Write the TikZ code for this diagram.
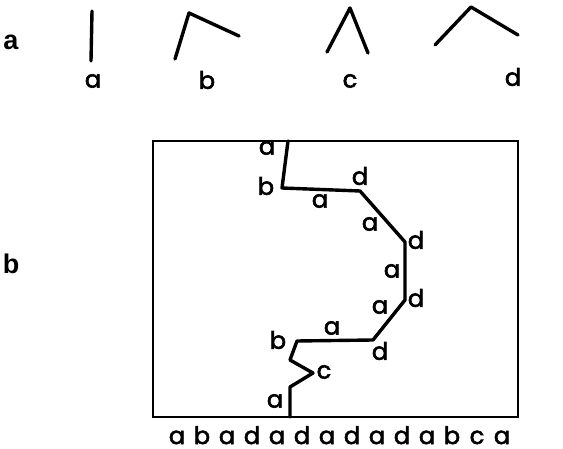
\documentclass[tikz,border=0pt]{standalone}
\usepackage{fontspec}
\newfontfamily\lblfont{Poppins}[FakeBold=2.5]
\newfontfamily\panelfont{Liberation Sans}
\usetikzlibrary{calc,positioning}
\tikzset{
  lbl/.style={font=\lblfont\fontsize{24}{24}\selectfont, inner sep=0pt},
  panel/.style={font=\panelfont\bfseries\fontsize{27}{27}\selectfont, inner sep=0pt},
  stroke/.style={line width=3.4pt, line cap=round, line join=round},
}

\begin{document}
\begin{tikzpicture}[x=1pt,y=-1pt]
\useasboundingbox (0,0) rectangle (563,449);
% elements
\begin{scope}
  \node[panel] (pa) at (11,42) {a};
  \coordinate (a1) at (92,11);  \coordinate (a2) at (91,61);
  \coordinate (b1) at (175,59); \coordinate (b2) at (189,13); \coordinate (b3) at (239,36);
  \coordinate (c1) at (327,52); \coordinate (c2) at (350,8);  \coordinate (c3) at (368,53);
  \coordinate (d1) at (435,45); \coordinate (d2) at (471,7);  \coordinate (d3) at (518,35);
  \draw[stroke] (a1) -- (a2);
  \draw[stroke] (b1) -- (b2) -- (b3);
  \draw[stroke] (c1) -- (c2) -- (c3);
  \draw[stroke] (d1) -- (d2) -- (d3);
  \node[lbl] (la) at (93,81) {a};
  \node[lbl] (lb) at (207,80) {b};
  \node[lbl] (lc) at (350,81) {c};
  \node[lbl] (ld) at (513,77) {d};
\end{scope}
% chain in the box
\begin{scope}
  \node[panel] (pb) at (11,264) {b};
  \draw[line width=1.5pt] (153,141) rectangle (518,417);
  \coordinate (p0) at (288,141);
  \coordinate (p1) at (282,188);
  \coordinate (p2) at (360,191);
  \coordinate (p3) at (405,242);
  \coordinate (p4) at (405,300);
  \coordinate (p5) at (373,340);
  \coordinate (p6) at (297,341);
  \coordinate (p7) at (290,360);
  \coordinate (p8) at (313,373);
  \coordinate (p9) at (290,387);
  \coordinate (p10) at (290,417);
  \draw[stroke] (p0) -- (p1) -- (p2) -- (p3) -- (p4) -- (p5) -- (p6)
    -- (p7) -- (p8) -- (p9) -- (p10);
  \node[lbl] at (267,148) {a};
  \node[lbl] at (266,186) {b};
  \node[lbl] at (360,176) {d};
  \node[lbl] at (320,201) {a};
  \node[lbl] at (370,224) {a};
  \node[lbl] at (416,240) {d};
  \node[lbl] at (392,271) {a};
  \node[lbl] at (416,298) {d};
  \node[lbl] at (380,307) {a};
  \node[lbl] at (332,328) {a};
  \node[lbl] at (278,340) {b};
  \node[lbl] at (380,351) {d};
  \node[lbl] at (324,372) {c};
  \node[lbl] at (275,401) {a};
  % sequence along the bottom
  \foreach \ch [count=\i from 0] in {a,b,a,d,a,d,a,d,a,d,a,b,c,a}
    \node[lbl, anchor=base] at (177+25*\i,444) {\ch};
\end{scope}
\end{tikzpicture}
\end{document}
